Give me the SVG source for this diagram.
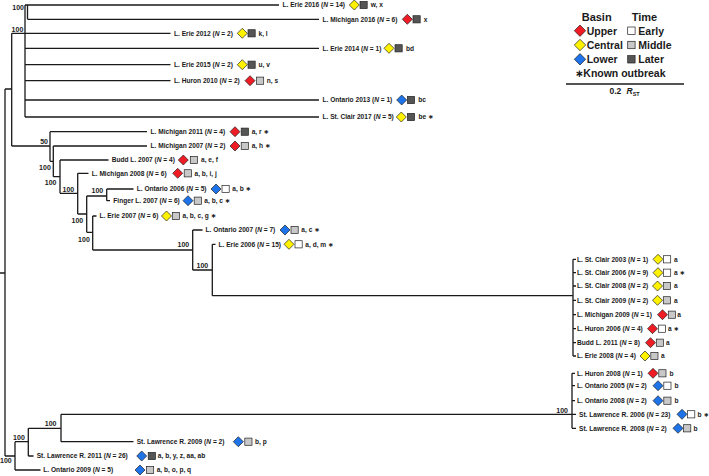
<svg xmlns="http://www.w3.org/2000/svg" xmlns:xlink="http://www.w3.org/1999/xlink" width="709" height="476" viewBox="0 0 709 476">
<style>
.t{font-family:"Liberation Sans","DejaVu Sans",sans-serif;font-weight:bold;font-size:6.6px;fill:#1a1a1a}
.bs{font-family:"Liberation Sans","DejaVu Sans",sans-serif;font-weight:bold;font-size:7px;fill:#1a1a1a;text-anchor:end}
.lg{font-family:"Liberation Sans","DejaVu Sans",sans-serif;font-weight:bold;font-size:10.5px;fill:#1a1a1a}
.lh{font-family:"Liberation Sans","DejaVu Sans",sans-serif;font-weight:bold;font-size:11px;fill:#1a1a1a}
.i{font-style:italic}
.up{fill:#ee1c25;stroke:#222;stroke-width:0.7}
.ce{fill:#fff200;stroke:#222;stroke-width:0.7}
.lo{fill:#1e73e8;stroke:#222;stroke-width:0.7}
.ea{fill:#ffffff;stroke:#222;stroke-width:0.7}
.mi{fill:#c8c8c8;stroke:#222;stroke-width:0.7}
.la{fill:#555555;stroke:#222;stroke-width:0.7}
.tree{fill:none;stroke:#1a1a1a;stroke-width:1.3}
</style>
<defs>
<path id="dm" d="M0,-5L5,0L0,5L-5,0Z"/>
<path id="dl" d="M0,-5.7L5.7,0L0,5.7L-5.7,0Z"/>
<rect id="sq" x="0" y="-3.6" width="7.2" height="7.2"/>
<rect id="sl" x="0" y="-3.7" width="7.4" height="7.4"/>
</defs>

<g id="connectors">
<path class="tree" d="M0,273H5M5,89V456M5,89H11.7M11.7,33.3V146M11.7,33.3H25M25,5V117M25,5H27.5M27.5,5V19.3M27.5,5H279M27.5,19.3H319M25,33.3H170.5M25,48.3H319M25,64.7H170.5M25,80.7H170.5M25,100H319M25,117H319
M11.7,146H50M50,131.7V161.3M50,131.7H147M50,161.3H53.3M53.3,146V176.7M53.3,146H147M53.3,176.7H60M60,160V193.3M60,160H108.5M60,193.3H77.7M77.7,173.3V214M77.7,173.3H88.5M77.7,214H86.7M86.7,196V232.3M86.7,196H106.7M106.7,189V200.7M106.7,189H133.5M106.7,200.7H110M86.7,232.3H92.7M92.7,216V250M92.7,216H96.5M92.7,250H192.7M192.7,230V270M192.7,230H202.5M192.7,270H212.3M212.3,244.3V295.7M212.3,244.3H215.5M212.3,295.7H573
M573,259.3V356M573,259.3H576M573,272.7H576M573,286H576M573,300.3H576M573,314.7H576M573,328.7H576M573,342.7H576M573,356H576
M5,456H15M15,441.7V470M15,441.7H28.3M15,470H40.5M28.3,428.3V456M28.3,456H33.5M28.3,428.3H61M61,414.3V441.7M61,441.7H133.5M61,414.3H572
M572,373.3V428.3M572,373.3H575M572,385.7H575M572,400.7H575M572,414.3H576M572,428.3H576"/>
</g>

<g id="support">
<text class="bs" x="24" y="9.8">100</text>
<text class="bs" x="23.3" y="32.3">100</text>
<text class="bs" x="48" y="144.3">50</text>
<text class="bs" x="50.8" y="169.8">100</text>
<text class="bs" x="56.5" y="184.8">100</text>
<text class="bs" x="74.2" y="191.8">100</text>
<text class="bs" x="103.2" y="192.5">100</text>
<text class="bs" x="83.2" y="222.8">100</text>
<text class="bs" x="89.8" y="241.5">100</text>
<text class="bs" x="189.2" y="246.8">100</text>
<text class="bs" x="208.2" y="267.5">100</text>
<text class="bs" x="568" y="412.5">100</text>
<text class="bs" x="56.5" y="425.8">100</text>
<text class="bs" x="24.8" y="439.8">100</text>
<text class="bs" x="11.7" y="462.5">100</text>
</g>

<g id="n-erie2016"><text class="t" x="282.5" y="7.4">L. Erie 2016 (<tspan class="i">N</tspan> = 14)</text><use href="#dm" x="354.3" y="5" class="ce"/><use href="#sq" x="360" y="5" class="la"/><text class="t" x="370.7" y="7.4">w, x</text></g>
<g id="n-michigan2016"><text class="t" x="322.5" y="21.7">L. Michigan 2016 (<tspan class="i">N</tspan> = 6)</text><use href="#dm" x="407.3" y="19.3" class="up"/><use href="#sq" x="413" y="19.3" class="la"/><text class="t" x="423.8" y="21.7">x</text></g>
<g id="n-erie2012"><text class="t" x="174" y="35.7">L. Erie 2012 (<tspan class="i">N</tspan> = 2)</text><use href="#dm" x="242.3" y="33.3" class="ce"/><use href="#sq" x="248" y="33.3" class="la"/><text class="t" x="258.5" y="35.7">k, l</text></g>
<g id="n-erie2014"><text class="t" x="322.5" y="50.7">L. Erie 2014 (<tspan class="i">N</tspan> = 1)</text><use href="#dm" x="389" y="48.3" class="ce"/><use href="#sq" x="395" y="48.3" class="la"/><text class="t" x="406" y="50.7">bd</text></g>
<g id="n-erie2015"><text class="t" x="174" y="67.1">L. Erie 2015 (<tspan class="i">N</tspan> = 2)</text><use href="#dm" x="242.3" y="64.7" class="ce"/><use href="#sq" x="248" y="64.7" class="la"/><text class="t" x="258.5" y="67.1">u, v</text></g>
<g id="n-huron2010"><text class="t" x="174" y="83.1">L. Huron 2010 (<tspan class="i">N</tspan> = 2)</text><use href="#dm" x="250" y="80.7" class="up"/><use href="#sq" x="256.5" y="80.7" class="mi"/><text class="t" x="266.7" y="83.1">n, s</text></g>
<g id="n-ontario2013"><text class="t" x="322.5" y="102.4">L. Ontario 2013 (<tspan class="i">N</tspan> = 1)</text><use href="#dm" x="401.7" y="100" class="lo"/><use href="#sq" x="407.4" y="100" class="la"/><text class="t" x="418.2" y="102.4">bc</text></g>
<g id="n-stclair2017"><text class="t" x="322.5" y="119.4">L. St. Clair 2017 (<tspan class="i">N</tspan> = 5)</text><use href="#dm" x="401.3" y="117" class="ce"/><use href="#sq" x="407.4" y="117" class="la"/><text class="t" x="418.5" y="119.4">be ∗</text></g>
<g id="n-michigan2011"><text class="t" x="150.5" y="134.1">L. Michigan 2011 (<tspan class="i">N</tspan> = 4)</text><use href="#dm" x="235" y="131.7" class="up"/><use href="#sq" x="241.2" y="131.7" class="la"/><text class="t" x="251.7" y="134.1">a, r ∗</text></g>
<g id="n-michigan2007"><text class="t" x="150.5" y="148.4">L. Michigan 2007 (<tspan class="i">N</tspan> = 2)</text><use href="#dm" x="235" y="146" class="up"/><use href="#sq" x="241.2" y="146" class="mi"/><text class="t" x="251.7" y="148.4">a, h ∗</text></g>
<g id="n-budd2007"><text class="t" x="111.7" y="162.4">Budd L. 2007 (<tspan class="i">N</tspan> = 4)</text><use href="#dm" x="183.3" y="160" class="up"/><use href="#sq" x="190.3" y="160" class="mi"/><text class="t" x="201" y="162.4">a, e, f</text></g>
<g id="n-michigan2008"><text class="t" x="91.7" y="175.7">L. Michigan 2008 (<tspan class="i">N</tspan> = 6)</text><use href="#dm" x="177.7" y="173.3" class="up"/><use href="#sq" x="184.2" y="173.3" class="mi"/><text class="t" x="194.5" y="175.7">a, b, i, j</text></g>
<g id="n-ontario2006"><text class="t" x="136.7" y="191.4">L. Ontario 2006 (<tspan class="i">N</tspan> = 5)</text><use href="#dm" x="216" y="189" class="lo"/><use href="#sq" x="222" y="189" class="ea"/><text class="t" x="232.3" y="191.4">a, b ∗</text></g>
<g id="n-finger2007"><text class="t" x="113.3" y="203.1">Finger L. 2007 (<tspan class="i">N</tspan> = 6)</text><use href="#dm" x="188" y="200.7" class="lo"/><use href="#sq" x="194.2" y="200.7" class="mi"/><text class="t" x="204.3" y="203.1">a, b, c ∗</text></g>
<g id="n-erie2007"><text class="t" x="99.5" y="218.4">L. Erie 2007 (<tspan class="i">N</tspan> = 6)</text><use href="#dm" x="166.5" y="216" class="ce"/><use href="#sq" x="172.3" y="216" class="mi"/><text class="t" x="182.5" y="218.4">a, b, c, g ∗</text></g>
<g id="n-ontario2007"><text class="t" x="205.5" y="232.4">L. Ontario 2007 (<tspan class="i">N</tspan> = 7)</text><use href="#dm" x="285" y="230" class="lo"/><use href="#sq" x="291" y="230" class="mi"/><text class="t" x="301.3" y="232.4">a, c ∗</text></g>
<g id="n-erie2006"><text class="t" x="218.5" y="246.7">L. Erie 2006 (<tspan class="i">N</tspan> = 15)</text><use href="#dm" x="289" y="244.3" class="ce"/><use href="#sq" x="295" y="244.3" class="ea"/><text class="t" x="305.3" y="246.7">a, d, m ∗</text></g>

<g id="n-stclair2003"><text class="t" x="577" y="261.7">L. St. Clair 2003 (<tspan class="i">N</tspan> = 1)</text><use href="#dm" x="658" y="259.3" class="ce"/><use href="#sq" x="663.5" y="259.3" class="ea"/><text class="t" x="674" y="261.7">a</text></g>
<g id="n-stclair2006"><text class="t" x="577" y="275.1">L. St. Clair 2006 (<tspan class="i">N</tspan> = 9)</text><use href="#dm" x="658" y="272.7" class="ce"/><use href="#sq" x="663.5" y="272.7" class="ea"/><text class="t" x="674" y="275.1">a ∗</text></g>
<g id="n-stclair2008"><text class="t" x="577" y="288.4">L. St. Clair 2008 (<tspan class="i">N</tspan> = 2)</text><use href="#dm" x="657.5" y="286" class="ce"/><use href="#sq" x="663.3" y="286" class="mi"/><text class="t" x="674" y="288.4">a</text></g>
<g id="n-stclair2009"><text class="t" x="577" y="302.7">L. St. Clair 2009 (<tspan class="i">N</tspan> = 2)</text><use href="#dm" x="657.5" y="300.3" class="ce"/><use href="#sq" x="663.3" y="300.3" class="mi"/><text class="t" x="674" y="302.7">a</text></g>
<g id="n-michigan2009"><text class="t" x="577" y="317.1">L. Michigan 2009 (<tspan class="i">N</tspan> = 1)</text><use href="#dm" x="662.5" y="314.7" class="up"/><use href="#sq" x="668.3" y="314.7" class="mi"/><text class="t" x="677.3" y="317.1">a</text></g>
<g id="n-huron2006"><text class="t" x="577" y="331.1">L. Huron 2006 (<tspan class="i">N</tspan> = 4)</text><use href="#dm" x="652.5" y="328.7" class="up"/><use href="#sq" x="658.3" y="328.7" class="ea"/><text class="t" x="668" y="331.1">a ∗</text></g>
<g id="n-budd2011"><text class="t" x="577" y="345.1">Budd L. 2011 (<tspan class="i">N</tspan> = 8)</text><use href="#dm" x="650.5" y="342.7" class="up"/><use href="#sq" x="656.3" y="342.7" class="mi"/><text class="t" x="666" y="345.1">a</text></g>
<g id="n-erie2008"><text class="t" x="577" y="358.4">L. Erie 2008 (<tspan class="i">N</tspan> = 4)</text><use href="#dm" x="645" y="356" class="ce"/><use href="#sq" x="650.8" y="356" class="mi"/><text class="t" x="661" y="358.4">a</text></g>
<g id="n-huron2008"><text class="t" x="577" y="375.7">L. Huron 2008 (<tspan class="i">N</tspan> = 1)</text><use href="#dm" x="653" y="373.3" class="up"/><use href="#sq" x="658.8" y="373.3" class="mi"/><text class="t" x="669.5" y="375.7">b</text></g>
<g id="n-ontario2005"><text class="t" x="577" y="388.1">L. Ontario 2005 (<tspan class="i">N</tspan> = 2)</text><use href="#dm" x="658" y="385.7" class="lo"/><use href="#sq" x="663.8" y="385.7" class="ea"/><text class="t" x="674.5" y="388.1">b</text></g>
<g id="n-ontario2008"><text class="t" x="577" y="403.1">L. Ontario 2008 (<tspan class="i">N</tspan> = 2)</text><use href="#dm" x="658" y="400.7" class="lo"/><use href="#sq" x="663.8" y="400.7" class="mi"/><text class="t" x="674.5" y="403.1">b</text></g>
<g id="n-stlawrence2006"><text class="t" x="579" y="416.7">St. Lawrence R. 2006 (<tspan class="i">N</tspan> = 23)</text><use href="#dm" x="682" y="414.3" class="lo"/><use href="#sq" x="687.6" y="414.3" class="ea"/><text class="t" x="697.6" y="416.7">b ∗</text></g>
<g id="n-stlawrence2008"><text class="t" x="579" y="430.7">St. Lawrence R. 2008 (<tspan class="i">N</tspan> = 2)</text><use href="#dm" x="678" y="428.3" class="lo"/><use href="#sq" x="683.6" y="428.3" class="mi"/><text class="t" x="693.6" y="430.7">b</text></g>

<g id="n-stlawrence2009"><text class="t" x="136.7" y="444.1">St. Lawrence R. 2009 (<tspan class="i">N</tspan> = 2)</text><use href="#dm" x="238.3" y="441.7" class="lo"/><use href="#sq" x="244.8" y="441.7" class="mi"/><text class="t" x="255" y="444.1">b, p</text></g>
<g id="n-stlawrence2011"><text class="t" x="36.7" y="458.4">St. Lawrence R. 2011 (<tspan class="i">N</tspan> = 26)</text><use href="#dm" x="141.7" y="456" class="lo"/><use href="#sq" x="148.2" y="456" class="la"/><text class="t" x="157.8" y="458.4">a, b, y, z, aa, ab</text></g>
<g id="n-ontario2009"><text class="t" x="43.3" y="472.4">L. Ontario 2009 (<tspan class="i">N</tspan> = 5)</text><use href="#dm" x="140" y="470" class="lo"/><use href="#sq" x="146.5" y="470" class="mi"/><text class="t" x="156.7" y="472.4">a, b, o, p, q</text></g>

<g id="legend">
<text class="lh" x="581.7" y="20.6">Basin</text>
<text class="lh" x="631.7" y="20.6">Time</text>
<use href="#dl" x="580" y="30.7" class="up"/>
<text class="lg" x="586.7" y="34.5">Upper</text>
<use href="#sl" x="627.7" y="30.7" class="ea"/>
<text class="lg" x="638.3" y="34.5">Early</text>
<use href="#dl" x="580" y="45" class="ce"/>
<text class="lg" x="586.7" y="48.8">Central</text>
<use href="#sl" x="627.7" y="45" class="mi"/>
<text class="lg" x="638.3" y="48.8">Middle</text>
<use href="#dl" x="580" y="59.3" class="lo"/>
<text class="lg" x="586.7" y="63.1">Lower</text>
<use href="#sl" x="627.7" y="59.3" class="la"/>
<text class="lg" x="638.3" y="63.1">Later</text>
<text class="lg" x="575" y="77.1">∗</text>
<text class="lg" x="583.3" y="77.1">Known outbreak</text>
<path d="M566,84H684" fill="none" stroke="#1a1a1a" stroke-width="1.3"/>
<text class="t" x="609.5" y="94" style="font-size:8.5px">0.2 <tspan class="i" x="626.5">R</tspan><tspan dy="1.5" style="font-size:5.5px">ST</tspan></text>
</g>
</svg>
